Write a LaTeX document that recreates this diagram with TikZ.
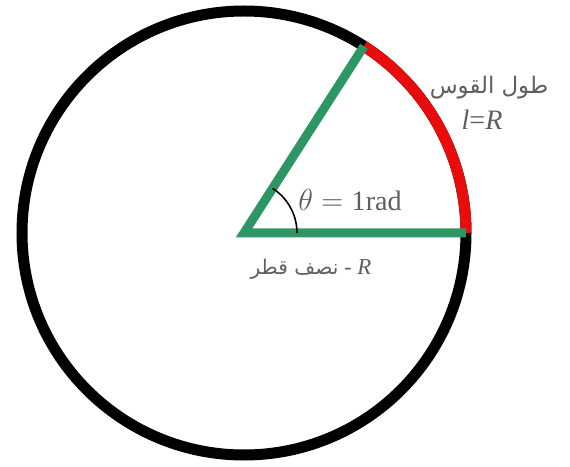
\documentclass[tikz,border=0pt]{standalone}
\usepackage{fontspec}
\usetikzlibrary{calc}
\setmainfont{Liberation Serif}
\newfontfamily\arabicfont[Script=Arabic]{DejaVu Sans}
\TeXXeTstate=1
\definecolor{radgreen}{RGB}{46,150,100}
\definecolor{arcred}{RGB}{232,12,12}
\definecolor{labelgray}{RGB}{95,95,95}
\tikzset{
	rim/.style={line width=0.22cm},
	spoke/.style={line width=0.18cm, radgreen, line join=miter},
	lbl/.style={text=labelgray, inner sep=1pt}
}
\begin{document}
\begin{tikzpicture}
		\useasboundingbox (0,0) rectangle (11.4,9.32);
		\coordinate (O) at (4.88,4.66);
		\coordinate (A) at ($(O)+(0:4.44)$);
		\coordinate (B) at ($(O)+(57.3:4.44)$);
		\draw[rim] (O) circle (4.44);
		\draw[rim, arcred] (A) arc (0:57.3:4.44);
		\draw[spoke] (B)--(O)--(A);
		\draw[line width=0.9pt] ($(O)+(0:1.06)$) arc (0:57.3:1.06);
		\node[lbl, font=\fontsize{16}{18}\selectfont] (T1) at (7.0,5.32) {$\theta = \mathrm{1rad}$};
		\node[lbl, font=\fontsize{13}{15}\selectfont] (L1) at (9.78,7.56) {\arabicfont\beginR طول القوس\endR};
		\node[lbl, font=\fontsize{16}{18}\selectfont] (L2) at (9.64,6.92) {\textit{l}=\textit{R}};
		\node[lbl, font=\fontsize{13}{15}\selectfont] (R1) at (6.22,3.94) {{\arabicfont\fontsize{11.5}{14}\selectfont\beginR نصف قطر\endR} - \textit{R}};
	\end{tikzpicture}
\end{document}
